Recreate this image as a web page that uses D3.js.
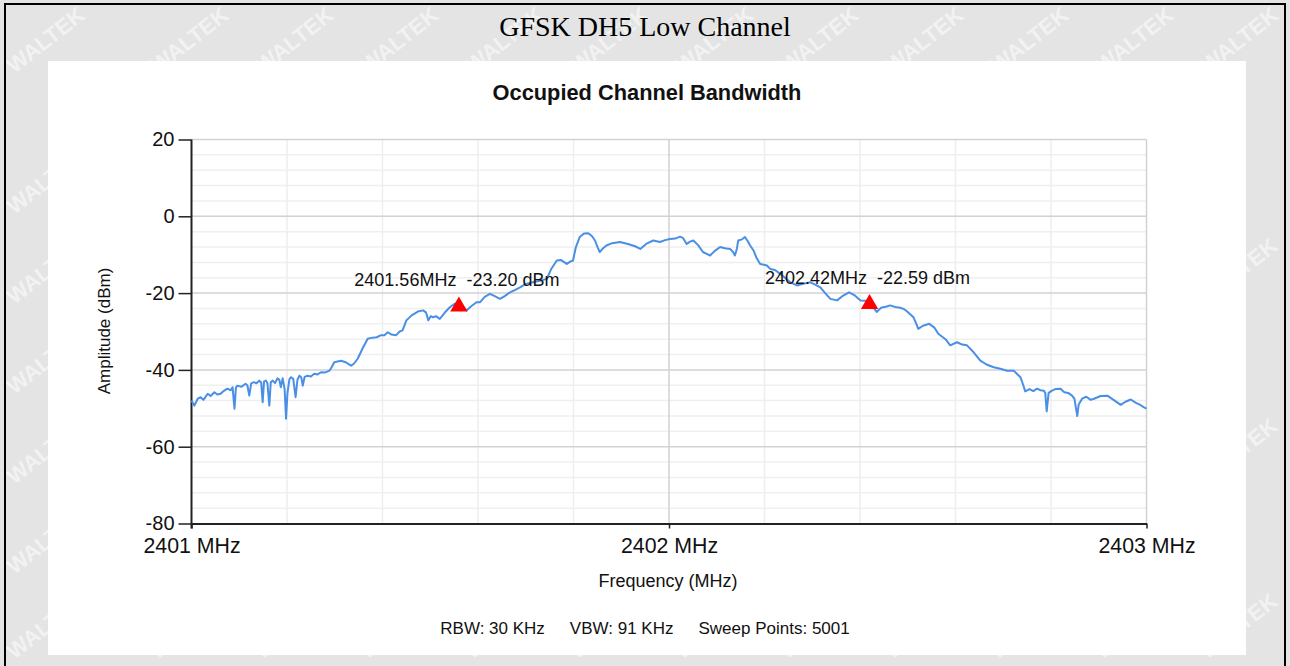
<!DOCTYPE html>
<html>
<head>
<meta charset="utf-8">
<script src="https://cdn.jsdelivr.net/npm/d3@7"></script>
<style>
  html, body { margin: 0; padding: 0; background: #e4e4e4; }
  svg { display: block; }
</style>
</head>
<body>
<svg id="chart" width="1290" height="666"></svg>
<script>
// trace (MHz, dBm)
const freqMHz = [
  2401.000, 2401.006, 2401.013, 2401.019, 2401.025, 2401.034, 2401.040, 2401.048, 2401.054, 2401.061,
  2401.067, 2401.075, 2401.082, 2401.086, 2401.090, 2401.093, 2401.096, 2401.105, 2401.113, 2401.117,
  2401.121, 2401.125, 2401.131, 2401.136, 2401.142, 2401.146, 2401.149, 2401.152, 2401.156, 2401.159,
  2401.163, 2401.166, 2401.170, 2401.175, 2401.180, 2401.184, 2401.187, 2401.191, 2401.195, 2401.198,
  2401.201, 2401.205, 2401.208, 2401.213, 2401.218, 2401.222, 2401.226, 2401.230, 2401.233, 2401.237,
  2401.243, 2401.250, 2401.257, 2401.264, 2401.271, 2401.279, 2401.289, 2401.294, 2401.299, 2401.306,
  2401.313, 2401.323, 2401.334, 2401.340, 2401.348, 2401.358, 2401.369, 2401.379, 2401.388, 2401.396,
  2401.404, 2401.411, 2401.419, 2401.428, 2401.436, 2401.442, 2401.450, 2401.461, 2401.474, 2401.485,
  2401.491, 2401.496, 2401.501, 2401.506, 2401.512, 2401.520, 2401.531, 2401.541, 2401.551, 2401.562,
  2401.568, 2401.576, 2401.585, 2401.597, 2401.604, 2401.614, 2401.625, 2401.635, 2401.646, 2401.656,
  2401.667, 2401.677, 2401.688, 2401.700, 2401.715, 2401.730, 2401.744, 2401.753, 2401.765, 2401.774,
  2401.786, 2401.793, 2401.799, 2401.805, 2401.813, 2401.822, 2401.831, 2401.839, 2401.845, 2401.851,
  2401.855, 2401.862, 2401.869, 2401.881, 2401.897, 2401.914, 2401.929, 2401.940, 2401.952, 2401.967,
  2401.981, 2401.992, 2402.002, 2402.013, 2402.023, 2402.029, 2402.037, 2402.044, 2402.051, 2402.061,
  2402.071, 2402.079, 2402.086, 2402.096, 2402.107, 2402.117, 2402.128, 2402.134, 2402.138, 2402.142,
  2402.145, 2402.153, 2402.159, 2402.165, 2402.170, 2402.177, 2402.184, 2402.191, 2402.205, 2402.212,
  2402.222, 2402.233, 2402.243, 2402.254, 2402.268, 2402.281, 2402.296, 2402.306, 2402.317, 2402.327,
  2402.338, 2402.352, 2402.363, 2402.377, 2402.388, 2402.401, 2402.413, 2402.421, 2402.428, 2402.435,
  2402.444, 2402.456, 2402.463, 2402.474, 2402.484, 2402.491, 2402.497, 2402.505, 2402.512, 2402.518,
  2402.522, 2402.532, 2402.545, 2402.556, 2402.564, 2402.579, 2402.589, 2402.603, 2402.614, 2402.624,
  2402.635, 2402.652, 2402.665, 2402.680, 2402.694, 2402.708, 2402.722, 2402.730, 2402.736, 2402.742,
  2402.746, 2402.755, 2402.763, 2402.771, 2402.778, 2402.785, 2402.788, 2402.791, 2402.795, 2402.802,
  2402.809, 2402.820, 2402.828, 2402.836, 2402.844, 2402.849, 2402.855, 2402.858, 2402.865, 2402.874,
  2402.883, 2402.890, 2402.904, 2402.918, 2402.931, 2402.946, 2402.956, 2402.967, 2402.977, 2402.988,
  2402.994, 2403.000
];
const ampDbm = [
  -48.0, -49.3, -47.5, -47.1, -47.8, -46.2, -46.8, -45.8, -46.4, -46.2,
  -45.5, -44.9, -45.3, -44.5, -50.1, -44.6, -44.1, -44.4, -43.6, -44.0,
  -46.7, -43.5, -43.2, -43.5, -42.8, -43.3, -48.4, -43.0, -42.8, -43.5,
  -49.3, -43.2, -42.8, -43.4, -42.2, -42.6, -44.5, -42.2, -45.0, -52.7,
  -46.0, -42.5, -41.9, -42.3, -47.1, -42.5, -41.5, -42.0, -44.1, -41.8,
  -41.5, -41.7, -41.0, -41.2, -40.6, -40.7, -40.2, -39.2, -38.0, -37.8,
  -37.6, -38.0, -38.9, -38.4, -37.1, -34.5, -31.9, -31.6, -31.5, -31.0,
  -31.0, -30.2, -30.8, -31.0, -30.0, -29.7, -27.1, -25.8, -24.8, -24.5,
  -25.0, -27.1, -26.0, -26.3, -26.0, -26.7, -25.0, -23.7, -22.8, -22.4,
  -23.5, -24.5, -23.5, -22.4, -22.4, -21.0, -20.2, -20.8, -21.5, -20.8,
  -19.8, -19.2, -18.5, -17.6, -17.2, -16.8, -16.3, -13.8, -11.5, -11.4,
  -12.4, -11.8, -11.5, -8.0, -5.4, -4.5, -4.4, -5.2, -6.3, -8.2,
  -9.3, -8.3, -7.6, -7.0, -6.7, -7.2, -7.8, -8.5, -7.2, -6.3,
  -6.7, -6.2, -5.9, -5.8, -5.3, -5.6, -7.2, -6.6, -6.3, -7.5,
  -9.3, -9.8, -10.2, -9.0, -8.0, -8.3, -8.5, -9.3, -10.2, -8.5,
  -6.3, -6.0, -5.4, -6.5, -7.6, -8.9, -11.0, -12.4, -12.8, -13.7,
  -14.0, -15.0, -16.0, -17.2, -18.0, -17.6, -17.2, -17.8, -18.5, -20.0,
  -21.5, -21.9, -20.8, -19.8, -20.5, -21.9, -22.0, -22.8, -23.8, -24.9,
  -23.8, -23.5, -23.2, -23.6, -23.8, -24.1, -24.6, -25.5, -26.3, -28.0,
  -29.3, -28.5, -28.0, -29.0, -30.6, -32.0, -33.6, -32.8, -33.4, -33.6,
  -35.0, -37.6, -38.6, -39.3, -39.7, -40.2, -40.2, -41.2, -41.9, -44.0,
  -45.6, -45.0, -45.5, -44.9, -45.3, -45.4, -46.0, -50.8, -46.0, -45.4,
  -45.0, -44.9, -45.8, -46.0, -46.7, -47.5, -52.0, -49.0, -47.5, -47.0,
  -47.8, -47.5, -46.8, -46.7, -47.8, -49.1, -48.3, -47.7, -48.5, -49.2,
  -49.7, -50.1
];

// occupied bandwidth markers
const markerFreq = [2401.56, 2402.42];
const markerAmp = [-23.20, -22.59];

const yTicks = [20, 0, -20, -40, -60, -80];
const xTicks = [2401, 2402, 2403];

const pageTitle = "GFSK DH5 Low Channel";
const chartTitle = "Occupied Channel Bandwidth";
const xTitle = "Frequency (MHz)";
const yTitle = "Amplitude (dBm)";
const footer = ["RBW: 30 KHz", "VBW: 91 KHz", "Sweep Points: 5001"];

const W = 1290, H = 666;
const svg = d3.select("#chart");
const sans = "'Liberation Sans', Arial, sans-serif";

// page background with watermark
svg.append("rect").attr("width", W).attr("height", H).attr("fill", "#e4e4e4");
const wm = svg.append("g")
    .attr("font-family", sans)
    .attr("font-weight", "bold")
    .attr("font-size", 22)
    .attr("fill", "#f2f2f2");
const kept = [];
d3.range(-1, 9).forEach(r => {
    d3.range(-1, 14).forEach(c => {
        let tx = c * 105 + (r % 2) * 52;
        let ty = r * 90 + 35;
        const t = wm.append("text")
            .attr("transform", `translate(${tx},${ty}) rotate(-38)`)
            .text("WALTEK");
        // pull copies at the page edge back inside so no text is cut
        const b = t.node().getBoundingClientRect();
        tx += Math.max(0, 2 - b.left) - Math.max(0, b.right - (W - 2));
        ty += Math.max(0, 2 - b.top) - Math.max(0, b.bottom - (H - 2));
        const cx = tx, cy = ty;
        if (kept.some(k => Math.hypot(k[0] - cx, k[1] - cy) < 70)) { t.remove(); return; }
        kept.push([cx, cy]);
        t.attr("transform", `translate(${tx},${ty}) rotate(-38)`);
    });
});

// frame
svg.append("rect")
    .attr("x", 5).attr("y", 4)
    .attr("width", 1280).attr("height", 720)
    .attr("fill", "none")
    .attr("stroke", "#000")
    .attr("stroke-width", 2);

svg.append("text")
    .attr("x", 645).attr("y", 36)
    .attr("text-anchor", "middle")
    .attr("font-family", "'Liberation Serif', 'Times New Roman', serif")
    .attr("font-size", 28)
    .attr("fill", "#000")
    .text(pageTitle);

// white chart panel
svg.append("rect")
    .attr("x", 48).attr("y", 61)
    .attr("width", 1198).attr("height", 594)
    .attr("fill", "#fff");

svg.append("text")
    .attr("x", 647).attr("y", 100)
    .attr("text-anchor", "middle")
    .attr("font-family", sans)
    .attr("font-weight", "bold")
    .attr("font-size", 21.8)
    .attr("fill", "#111")
    .text(chartTitle);

// scales
const x = d3.scaleLinear().domain([2401, 2403]).range([191.5, 1146.5]);
const y = d3.scaleLinear().domain([-80, 20]).range([523.5, 139.5]);

// grid
const grid = svg.append("g");
grid.selectAll("line.hmin")
    .data(d3.range(-76, 20, 4).filter(v => v % 20 !== 0))
    .join("line")
    .attr("x1", x(2401)).attr("x2", x(2403))
    .attr("y1", d => y(d)).attr("y2", d => y(d))
    .attr("stroke", "#efefef").attr("stroke-width", 1.5);
grid.selectAll("line.vmin")
    .data(d3.range(1, 10).map(i => 2401 + i * 0.2).filter(v => Math.abs(v - 2402) > 1e-6))
    .join("line")
    .attr("x1", d => x(d)).attr("x2", d => x(d))
    .attr("y1", y(20)).attr("y2", y(-80))
    .attr("stroke", "#eeeeee").attr("stroke-width", 1.5);
grid.selectAll("line.hmaj")
    .data([20, 0, -20, -40, -60])
    .join("line")
    .attr("x1", x(2401)).attr("x2", x(2403))
    .attr("y1", d => y(d)).attr("y2", d => y(d))
    .attr("stroke", "#d2d2d2").attr("stroke-width", 1.5);
grid.selectAll("line.vmaj")
    .data([2402, 2403])
    .join("line")
    .attr("x1", d => x(d)).attr("x2", d => x(d))
    .attr("y1", y(20)).attr("y2", y(-80))
    .attr("stroke", "#d2d2d2").attr("stroke-width", 1.5);

// axes
const yAxis = svg.append("g")
    .attr("transform", `translate(${x(2401)},0)`)
    .call(d3.axisLeft(y).tickValues(yTicks).tickSize(13).tickPadding(4)
        .tickFormat(d => String(d)).tickSizeOuter(0));
yAxis.select(".domain").remove();
yAxis.selectAll(".tick line").attr("stroke", "#222").attr("stroke-width", 1.5);
yAxis.selectAll(".tick text")
    .attr("font-family", sans).attr("font-size", 20).attr("fill", "#111");

const xAxis = svg.append("g")
    .attr("transform", `translate(0,${y(-80)})`)
    .call(d3.axisBottom(x).tickValues(xTicks).tickSize(5).tickPadding(9)
        .tickFormat(d => `${d} MHz`).tickSizeOuter(0));
xAxis.select(".domain").attr("stroke", "#222").attr("stroke-width", 2);
xAxis.selectAll(".tick line").attr("stroke", "#222").attr("stroke-width", 1.5);
xAxis.selectAll(".tick text")
    .attr("font-family", sans).attr("font-size", 21.3).attr("fill", "#111");

svg.append("line")
    .attr("x1", x(2401)).attr("x2", x(2401))
    .attr("y1", y(20)).attr("y2", y(-80) + 5)
    .attr("stroke", "#222").attr("stroke-width", 2);

// trace
const pts = freqMHz.map((f, i) => [f, ampDbm[i]]);
svg.append("path")
    .datum(pts)
    .attr("fill", "none")
    .attr("stroke", "#4a8fe6")
    .attr("stroke-width", 2)
    .attr("stroke-linejoin", "round")
    .attr("d", d3.line().x(d => x(d[0])).y(d => y(d[1])));

// markers
const marks = markerFreq.map((f, i) => ({ f, a: markerAmp[i] }));
const tri = d3.symbol().type(d3.symbolTriangle).size(130);
svg.append("g")
    .selectAll("path")
    .data(marks)
    .join("path")
    .attr("transform", d => `translate(${x(d.f)},${y(d.a) + 1})`)
    .attr("d", tri)
    .attr("fill", "#ff0000");
svg.append("g")
    .attr("font-family", sans)
    .attr("font-size", 18)
    .attr("fill", "#111")
    .attr("text-anchor", "middle")
    .selectAll("text")
    .data(marks)
    .join("text")
    .attr("x", d => x(d.f) - 2)
    .attr("y", d => y(d.a) - 19)
    .text(d => `${d.f.toFixed(2)}MHz\u00a0\u00a0${d.a.toFixed(2)} dBm`);

// axis titles
svg.append("text")
    .attr("x", 668).attr("y", 587)
    .attr("text-anchor", "middle")
    .attr("font-family", sans).attr("font-size", 18).attr("fill", "#111")
    .text(xTitle);

svg.append("text")
    .attr("transform", "translate(110,331) rotate(-90)")
    .attr("text-anchor", "middle")
    .attr("font-family", sans).attr("font-size", 17).attr("fill", "#111")
    .text(yTitle);

const foot = svg.append("text")
    .attr("x", 645).attr("y", 634)
    .attr("text-anchor", "middle")
    .attr("font-family", sans).attr("font-size", 17).attr("fill", "#111");
footer.forEach((t, i) => {
    foot.append("tspan").attr("dx", i ? 25 : 0).text(t);
});
</script>
</body>
</html>
